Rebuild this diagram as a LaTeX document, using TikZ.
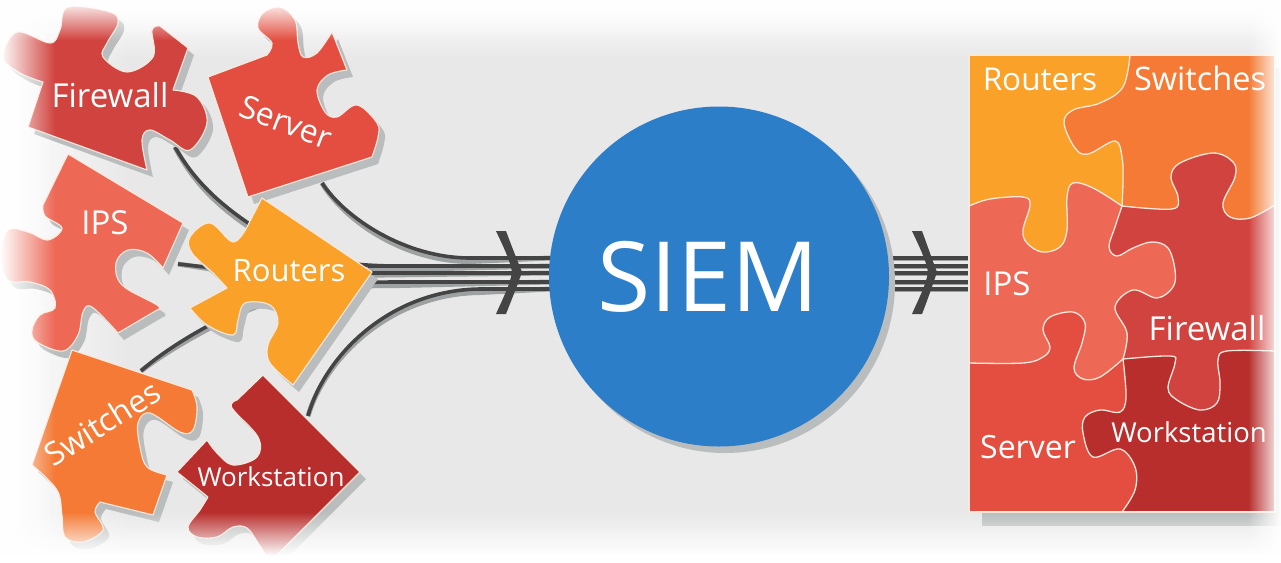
\documentclass[tikz,border=0pt]{standalone}
\usepackage{fontspec}
\setmainfont{Open Sans}
\usetikzlibrary{fadings}
\definecolor{bgc}{HTML}{E8E8E8}
\definecolor{shc}{HTML}{BABDBD}
\definecolor{linec}{HTML}{444444}
\definecolor{rc}{HTML}{F9A128}
\definecolor{swc}{HTML}{F47A35}
\definecolor{fwc}{HTML}{D1433F}
\definecolor{ipc}{HTML}{EE6856}
\definecolor{svc}{HTML}{E34E40}
\definecolor{wsc}{HTML}{B82E2D}
\definecolor{edgec}{HTML}{FBE8DC}
\definecolor{blu}{HTML}{2D7EC9}
\tikzfading[name=fdL,left color=transparent!0,right color=transparent!100]
\tikzfading[name=fdR,left color=transparent!100,right color=transparent!0]
\tikzfading[name=fdT,top color=transparent!0,bottom color=transparent!100]
\tikzfading[name=fdB,top color=transparent!100,bottom color=transparent!0]
\tikzset{
 x=1pt,y=-1pt,
 smth/.style={smooth,tension=.6},
 lbl/.style={text=white,inner sep=0pt,font=\fontsize{#1}{#1}\selectfont},
 pce/.style={line width=1.1pt,draw=edgec,line join=round},
 seam/.style={line width=1.3pt,draw=edgec,line join=round},
 wire/.style={draw=linec,line width=3.6pt},
 wiresh/.style={draw=shc!85!black,line width=5pt},
}
% piece outlines
\def\pFW{(28,127)--(43,82) --plot[smth] coordinates {(43,82)(20,73)(3,57)(17,32)(50,43)(60,30)(68,7)(110,12)(118,23)(107,43)(103,57)(127,72)(153,57)(152,30)(160,26)} --(188,48)--(173,90) --plot[smth] coordinates {(173,90)(197,97)(207,123)(190,150)(170,140)(150,130)(142,140)(147,170)} --cycle}
\def\pSV{(208,77)--(267,55) --plot[smth] coordinates {(267,55)(272,43)(258,28)(263,13)(280,7)(295,20)(298,43)(303,57)(317,53)(332,32)} --(347,70) --plot[smth] coordinates {(347,70)(328,75)(317,90)(325,112)(337,117)(357,105)(377,123)(378,137)(372,157)} --(248,197)--cycle}
\def\pIP{(68,154)--(183,223)--(163,268) --plot[smth] coordinates {(163,268)(147,253)(128,250)(116,263)(122,285)(157,305)(157,310)} --(118,333) --plot[smth] coordinates {(118,333)(92,307)(83,312)(78,335)(63,351)(37,342)(32,330)(40,315)(55,308)(50,290)(30,282)(8,280)(0,255)(8,230)(28,232)(48,240)(62,228)(45,216)(43,205)} --cycle}
\def\pRT{(262,198)--(372,272)--(293,385) --plot[smth] coordinates {(293,385)(270,363)(268,345)(278,323)(270,305)(245,303)(238,320)(233,335)(207,325)(190,308)} --(227,288) --plot[smth] coordinates {(227,288)(213,273)(192,253)(190,237)(210,223)(233,242)(247,227)} --cycle}
\def\pSW{(72,350)--(192,390) --plot[smth] coordinates {(192,390)(197,407)(193,430)(180,432)(150,413)(138,423)(140,447)(147,467)(167,475)} --(153,515)--(100,502) --plot[smth] coordinates {(100,502)(95,512)(103,530)(83,542)(65,537)(62,515)(57,490)(32,465)} --cycle}
\def\pWS{(263,375)--(360,472)--(270,562) --plot[smth] coordinates {(270,562)(258,543)(247,528)(233,527)(217,537)(197,537)(188,527)(200,510)(208,497)} --(177,472)--(207,440) --plot[smth] coordinates {(207,440)(217,453)(233,465)(257,457)(258,437)(232,408)(237,400)} --cycle}
% panel seams
\def\bA{--plot[smth] coordinates {(1130,55)(1123,87)(1100,103)(1073,110)(1064,123)(1075,148)(1088,154)(1115,141)(1122,157)(1123,180)(1122,206)}}
\def\bB{--plot[smth] coordinates {(969,206)(990,199)(1023,197)(1030,205)(1023,230)(1027,243)(1042,252)(1060,247)(1067,230)(1067,197)(1073,183)(1093,188)(1122,206)}}
\def\bC{--plot[smth] coordinates {(1122,206)(1172,209)(1178,197)(1171,177)(1180,163)(1213,153)(1233,162)(1235,177)(1223,203)(1230,217)(1250,218)(1275,205)}}
\def\bD{--plot[smth] coordinates {(1122,206)(1115,227)(1109,247)(1117,256)(1133,248)(1152,242)(1168,248)(1175,270)(1173,287)(1157,298)(1133,290)(1115,307)(1127,333)(1123,359)}}
\def\bE{--plot[smth] coordinates {(969,363)(1023,363)(1043,357)(1050,347)(1043,330)(1050,317)(1073,312)(1085,323)(1082,343)(1074,368)(1083,379)(1100,377)(1123,359)}}
\def\bF{--plot[smth] coordinates {(1123,359)(1170,356)(1175,363)(1168,388)(1177,400)(1200,410)(1217,403)(1220,383)(1218,360)(1227,351)(1275,351)}}
\def\bG{--plot[smth] coordinates {(1123,359)(1126,397)(1120,412)(1100,410)(1085,417)(1083,433)(1093,457)(1120,449)(1135,467)(1135,490)(1122,512)}}
\newcommand{\piecedraw}[2]{%
 \fill[shc,shift={(6,7)}] #2;
 \path[pce,fill=#1] #2;}
\begin{document}
\begin{tikzpicture}
\useasboundingbox (0,0) rectangle (1281,562);
\fill[bgc] (0,0) rectangle (1281,562);
% wide soft fades beneath the pieces
\fill[white,path fading=fdL,fit fading=true] (0,0) rectangle (130,562);
\fill[white,path fading=fdT,fit fading=true] (0,0) rectangle (1281,60);
% named wire ends
\coordinate (fwS) at (175,147);
\coordinate (svS) at (322,183);
\coordinate (ipS) at (178,264);
\coordinate (rtS) at (368,266);
\coordinate (swS) at (141,371);
\coordinate (wsS) at (308,416);
\coordinate (e1) at (550,258);
\coordinate (e2) at (550,266);
\coordinate (e3) at (550,273);
\coordinate (e4) at (550,282);
\coordinate (e5) at (550,289);
\coordinate (o1) at (893,258);
\coordinate (o2) at (893,266);
\coordinate (o3) at (893,273);
\coordinate (o4) at (893,282);
\coordinate (o5) at (893,289);
\coordinate (t1) at (969,258);
\coordinate (t2) at (969,266);
\coordinate (t3) at (969,273);
\coordinate (t4) at (969,282);
\coordinate (t5) at (969,289);
% wires
\foreach \st/\off in {wiresh/3.5,wire/0}{
 \begin{scope}[shift={(0,\off)}]
 \draw[\st] (svS) .. controls (345,218) and (405,258) .. (470,258) -- (e1);
 \draw[\st] (fwS) .. controls (195,182) and (222,207) .. (262,232) .. controls (300,258) and (340,266) .. (400,266) -- (e2);
 \draw[\st] (ipS) -- (260,273) -- (e3);
 \draw[\st] (rtS) -- (e2);
 \draw[\st] (swS) .. controls (170,345) and (230,310) .. (280,295) .. controls (310,285) and (340,282) .. (400,282) -- (e4);
 \draw[\st] (wsS) .. controls (325,355) and (390,290) .. (480,289) -- (e5);
 \draw[\st] (o1) -- (t1); \draw[\st] (o2) -- (t2); \draw[\st] (o3) -- (t3); \draw[\st] (o4) -- (t4); \draw[\st] (o5) -- (t5);
 \end{scope}
}
% chevrons
\fill[linec] (496,231)--(506,231) .. controls (513,250) and (518,262) .. (522,272) .. controls (518,284) and (513,296) .. (506,314)--(496,314) .. controls (503,298) and (510,285) .. (512,272) .. controls (510,260) and (503,246) .. (496,231)--cycle;
\fill[linec] (912,231)--(922,231) .. controls (929,250) and (933,262) .. (937,272) .. controls (933,284) and (929,296) .. (922,314)--(912,314) .. controls (919,298) and (926,285) .. (928,272) .. controls (926,260) and (919,246) .. (912,231)--cycle;
% pieces
\piecedraw{fwc}{\pFW}
\piecedraw{svc}{\pSV}
\piecedraw{ipc}{\pIP}
\piecedraw{swc}{\pSW}
\piecedraw{wsc}{\pWS}
\piecedraw{rc}{\pRT}
\node[lbl=33] (lFW) at (110,95) {Firewall};
\node[lbl=32,rotate=-21] (lSV) at (286,122) {Server};
\node[lbl=33] (lIP) at (105,223) {IPS};
\node[lbl=31] (lRT) at (289,271) {Routers};
\node[lbl=32,rotate=32] (lSW) at (102,423) {Switches};
\node[lbl=26] (lWS) at (271,477) {Workstation};
% SIEM disc
\fill[shc] (725,283) circle (170);
\fill[blu] (719,276.5) circle (170);
\node[lbl=97] (siem) at (708,277) {SIEM};
% panel
\fill[shc] (982,68) rectangle (1281,526);
\fill[wsc] (969,55) rectangle (1275,512);
\fill[fwc] (1123,359) \bF --(1275,55)--(1100,55)--(1100,300)--cycle;
\fill[swc] (1122,206) \bC --(1275,55)--(1060,55)--(1060,206)--cycle;
\fill[rc] (969,55)--(1130,55) \bA --(1067,260)--(969,260)--cycle;
\fill[ipc] (969,206) \bB \bD --(1118,385)--(969,385)--cycle;
\fill[svc] (969,363) \bE \bG --(969,512)--cycle;
\draw[seam] (1130,55) \bA;
\draw[seam] (969,206) \bB;
\draw[seam] (1122,206) \bC;
\draw[seam] (1122,206) \bD;
\draw[seam] (969,363) \bE;
\draw[seam] (1123,359) \bF;
\draw[seam] (1123,359) \bG;
\draw[seam] (969,55) rectangle (1275,512);
\node[lbl=31.5] (rRT) at (1040,79) {Routers};
\node[lbl=32.5] (rSW) at (1200,78) {Switches};
\node[lbl=33] (rIP) at (1007,284) {IPS};
\node[lbl=33] (rFW) at (1207,328) {Firewall};
\node[lbl=32] (rSV) at (1028,447) {Server};
\node[lbl=27.5] (rWS) at (1189,432) {Workstation};
% edge fades over everything
\fill[white,path fading=fdL,fit fading=true] (0,0) rectangle (55,562);
\fill[white,path fading=fdR,fit fading=true] (1248,0) rectangle (1281,562);
\fill[white,path fading=fdT,fit fading=true] (0,0) rectangle (1281,40);
\fill[white,path fading=fdB,fit fading=true] (0,512) rectangle (1281,556);
\fill[white] (-5,555) rectangle (1290,580);
\end{tikzpicture}
\end{document}
